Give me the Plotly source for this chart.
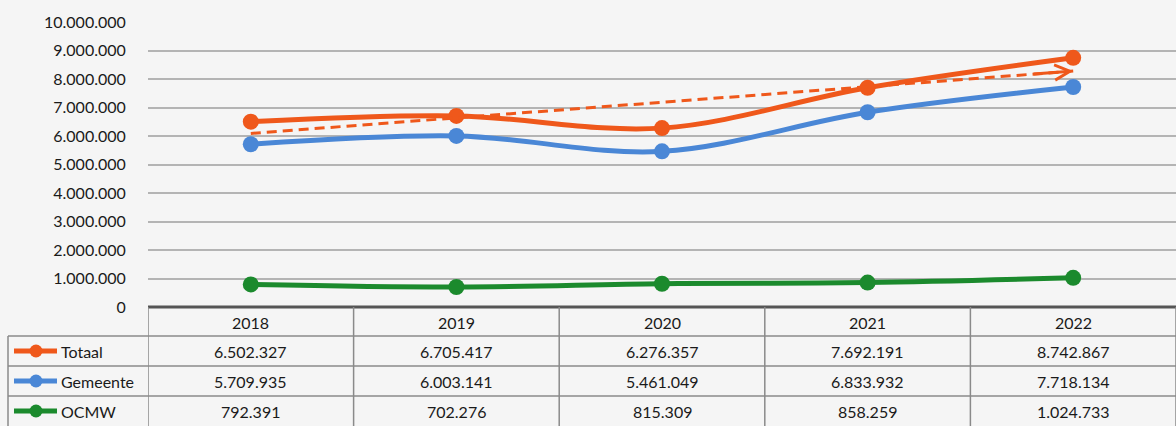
import numpy as np
import plotly.graph_objects as go

years = ["2018", "2019", "2020", "2021", "2022"]
totaal = [6502327, 6705417, 6276357, 7692191, 8742867]
gemeente = [5709935, 6003141, 5461049, 6833932, 7718134]
ocmw = [792391, 702276, 815309, 858259, 1024733]
series_names = ["Totaal", "Gemeente", "OCMW"]
y_ticks = list(range(0, 10000001, 1000000))

colors = {"Totaal": "#EF581B", "Gemeente": "#4A87D6", "OCMW": "#1B8A2D"}
W, H = 1176, 426
FONT = "Lato"

def fmt(v):
    return f"{v:,}".replace(",", ".")

def py(p):  # pixel y -> paper y
    return (H - p) / H

fig = go.Figure()
data = {"Totaal": totaal, "Gemeente": gemeente, "OCMW": ocmw}
for name in series_names:
    fig.add_trace(go.Scatter(
        x=years, y=data[name], name=name, mode="lines+markers",
        line=dict(color=colors[name], width=5, shape="spline", smoothing=1.0),
        marker=dict(size=16, color=colors[name]),
        showlegend=False,
    ))

# linear trendline of Totaal
xi = np.arange(len(years))
k, b = np.polyfit(xi, totaal, 1)
trend = k * xi + b
fig.add_trace(go.Scatter(
    x=[years[0], years[-1]], y=[trend[0], trend[-1]], mode="lines",
    line=dict(color=colors["Totaal"], width=3, dash="10px,6px"), showlegend=False,
))

annotations = [dict(
    x=4.0, y=trend[-1], ax=3.8, ay=trend[-1] - k * 0.2, xref="x", yref="y",
    axref="x", ayref="y", text="", showarrow=True, arrowhead=5,
    arrowsize=1.0, arrowwidth=3, arrowcolor=colors["Totaal"],
)]

shapes = []
# axis line (0)
shapes.append(dict(type="line", xref="x", yref="paper", x0=-0.5, x1=4.5,
                   y0=py(307), y1=py(307), line=dict(color="#555555", width=3)))
# table horizontal lines
for p in [336, 366, 396]:
    shapes.append(dict(type="line", xref="paper", yref="paper", x0=8 / W, x1=1,
                       y0=py(p), y1=py(p), line=dict(color="#8A8A8A", width=1.5)))
# table vertical lines
for i in range(len(years) + 1):
    shapes.append(dict(type="line", xref="x", yref="paper", x0=i - 0.5, x1=i - 0.5,
                       y0=py(307), y1=0, line=dict(color="#8A8A8A", width=1.5)))
shapes.append(dict(type="line", xref="paper", yref="paper", x0=8 / W, x1=8 / W,
                   y0=py(336), y1=0, line=dict(color="#8A8A8A", width=1.5)))

tfont = dict(size=16, color="#1A1A1A", family=FONT)
for i, yr in enumerate(years):
    annotations.append(dict(x=i, y=py(322), xref="x", yref="paper", text=yr,
                            xanchor="center", yanchor="middle", showarrow=False, font=tfont))
row_y = {"Totaal": 351, "Gemeente": 381, "OCMW": 411}
for name in series_names:
    for i, v in enumerate(data[name]):
        annotations.append(dict(x=i, y=py(row_y[name]), xref="x", yref="paper", text=fmt(v),
                                xanchor="center", yanchor="middle", showarrow=False, font=tfont))
    annotations.append(dict(x=59 / W, y=py(row_y[name]), xref="paper", yref="paper", text=name,
                            xanchor="left", yanchor="middle", showarrow=False, font=tfont))
    shapes.append(dict(type="line", xref="paper", yref="paper", x0=14 / W, x1=57 / W,
                       y0=py(row_y[name]), y1=py(row_y[name]),
                       line=dict(color=colors[name], width=5)))
    shapes.append(dict(type="circle", xref="paper", yref="paper", x0=29.5 / W, x1=42.5 / W,
                       y0=py(row_y[name] + 6.5), y1=py(row_y[name] - 6.5),
                       fillcolor=colors[name], line=dict(color=colors[name], width=0)))

fig.update_layout(
    width=W, height=H, margin=dict(l=0, r=0, t=0, b=0, autoexpand=False),
    paper_bgcolor="#F5F5F5", plot_bgcolor="#F5F5F5",
    separators=",.",
    font=dict(family=FONT, size=16, color="#1A1A1A"),
    xaxis=dict(domain=[148 / W, 1], range=[-0.5, 4.5], showticklabels=False,
               showgrid=False, zeroline=False, type="category", automargin=False),
    yaxis=dict(domain=[py(307), py(22)], range=[0, 10000000], tickvals=y_ticks,
               tickformat=",d", showgrid=True, gridcolor="#B4B4B4", gridwidth=1.5,
               zeroline=False, ticks="outside", ticklen=18, tickcolor="rgba(0,0,0,0)",
               tickfont=tfont, automargin=False),
    shapes=shapes, annotations=annotations,
)
fig.write_html("out.html", config={"responsive": False, "displayModeBar": False},
               post_script="document.body.style.margin='0';document.body.style.overflow='hidden';")
